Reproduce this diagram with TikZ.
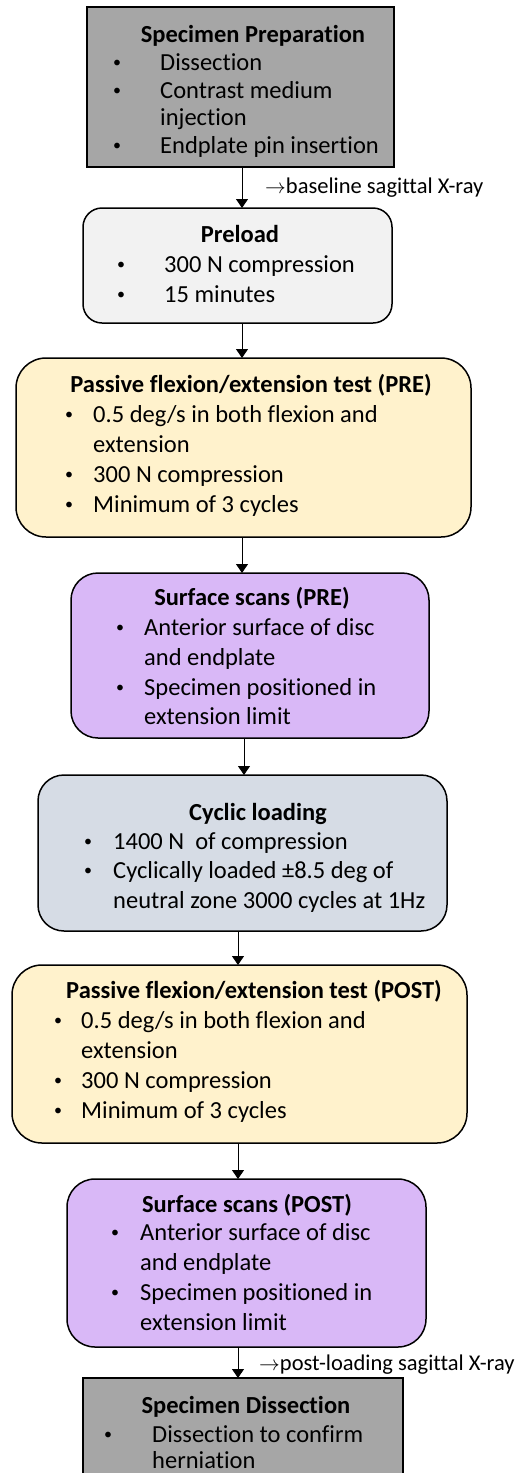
\documentclass[tikz,border=0pt]{standalone}
\usepackage{fontspec}
\setmainfont{Carlito}[Ligatures={NoCommon,NoRequired,NoContextual},RawFeature={-liga;-clig}]
\usetikzlibrary{arrows.meta}

\definecolor{stepgray}{HTML}{A6A6A6}
\definecolor{lightgray}{HTML}{F2F2F2}
\definecolor{paleyellow}{HTML}{FFF2CC}
\definecolor{lilac}{HTML}{D9B8F7}
\definecolor{slate}{HTML}{D6DCE5}

\newcounter{ln}
% bullet at x=#1, text at x=#2, baseline y=#3
\newcommand\bitem[4]{\stepcounter{ln}%
  \node[bul] (bu\theln) at (#1,#3) {\raisebox{2.5pt}{\textbullet}};%
  \node[txt] (tx\theln) at (#2,#3) {#4};}
% continuation line of a bullet
\newcommand\contline[3]{\stepcounter{ln}%
  \node[txt] (tx\theln) at (#1,#2) {#3};}

\begin{document}
\begin{tikzpicture}[x=1pt,y=-1pt,
  box/.style={draw=black, line width=1.5pt, inner sep=0pt, outer sep=0pt, anchor=north west},
  txt/.style={anchor=base west, inner sep=0pt, font=\fontsize{24.5}{29}\selectfont},
  bul/.style={anchor=base, inner sep=0pt, font=\fontsize{16}{20}\selectfont},
  ttl/.style={anchor=base, inner sep=0pt, font=\fontsize{24.5}{29}\selectfont\bfseries},
  lbl/.style={anchor=base west, inner sep=0pt, font=\fontsize{22.5}{27}\selectfont},
  arr/.style={line width=1pt, -{Triangle[length=9pt,width=12pt]}}]
\clip (0,0) rectangle (522,1473);
\fill[white] (0,0) rectangle (522,1473);

% boxes
\node[box, fill=stepgray, minimum width=307pt, minimum height=160pt] (prep) at (87,7) {};
\node[box, fill=lightgray, rounded corners=19pt, minimum width=309pt, minimum height=115pt] (preload) at (83,208) {};
\node[box, fill=paleyellow, rounded corners=30pt, minimum width=455pt, minimum height=179pt] (pfpre) at (16,358) {};
\node[box, fill=lilac, rounded corners=27pt, minimum width=358pt, minimum height=165pt] (sspre) at (71,573) {};
\node[box, fill=slate, rounded corners=26pt, minimum width=409pt, minimum height=156pt] (cyc) at (38,775) {};
\node[box, fill=paleyellow, rounded corners=30pt, minimum width=455pt, minimum height=178pt] (pfpost) at (12,965) {};
\node[box, fill=lilac, rounded corners=28pt, minimum width=359pt, minimum height=168pt] (sspost) at (67,1179) {};
\node[box, fill=stepgray, minimum width=320pt, minimum height=140pt] (diss) at (83,1378) {};

% arrow columns
\coordinate (ca) at (242,0);
\coordinate (cb) at (244,0);
\coordinate (cc) at (238,0);
\draw[arr] (prep.south -| ca) -- (preload.north -| ca);
\draw[arr] (preload.south -| ca) -- (pfpre.north -| ca);
\draw[arr] (pfpre.south -| ca) -- (sspre.north -| ca);
\draw[arr] (sspre.south -| cb) -- (cyc.north -| cb);
\draw[arr] (cyc.south -| cc) -- (pfpost.north -| cc);
\draw[arr] (pfpost.south -| cc) -- (sspost.north -| cc);
\draw[arr] (sspost.south -| cc) -- (diss.north -| cc);

% side notes
\node[lbl] (xray1) at (265,193) {$\rightarrow$baseline sagittal X-ray};
\node[lbl] (xray2) at (259,1370) {$\rightarrow$post-loading sagittal X-ray};

% Specimen Preparation
\node[ttl] (t1) at (253,42) {Specimen Preparation};
\bitem{117}{160}{70}{Dissection}
\bitem{117}{160}{98}{Contrast medium}
\contline{160}{125}{injection}
\bitem{117}{160}{153}{Endplate pin insertion}

% Preload
\node[ttl] (t2) at (240,242) {Preload};
\bitem{121}{164}{272}{300 N compression}
\bitem{121}{164}{302}{15 minutes}

% Passive test (PRE)
\node[ttl] (t3) at (251,392) {Passive flexion/extension test (PRE)};
\bitem{69}{93}{422}{0.5 deg/s in both flexion and}
\contline{93}{452}{extension}
\bitem{69}{93}{482}{300 N compression}
\bitem{69}{93}{512}{Minimum of 3 cycles}

% Surface scans (PRE)
\node[ttl] (t4) at (252,605) {Surface scans (PRE)};
\bitem{120}{144}{635}{Anterior surface of disc}
\contline{144}{665}{and endplate}
\bitem{120}{144}{695}{Specimen positioned in}
\contline{144}{724}{extension limit}

% Cyclic loading
\node[ttl] (t5) at (258,820) {Cyclic loading};
\bitem{88}{113}{849}{1400 N\ \ of compression}
\bitem{88}{113}{878}{Cyclically loaded ±8.5 deg of}
\contline{113}{908}{neutral zone 3000 cycles at 1Hz}

% Passive test (POST)
\node[ttl] (t6) at (254,998) {Passive flexion/extension test (POST)};
\bitem{58}{81}{1028}{0.5 deg/s in both flexion and}
\contline{81}{1058}{extension}
\bitem{58}{81}{1088}{300 N compression}
\bitem{58}{81}{1118}{Minimum of 3 cycles}

% Surface scans (POST)
\node[ttl] (t7) at (247,1212) {Surface scans (POST)};
\bitem{115}{140}{1240}{Anterior surface of disc}
\contline{140}{1270}{and endplate}
\bitem{115}{140}{1300}{Specimen positioned in}
\contline{140}{1330}{extension limit}

% Specimen Dissection
\node[ttl] (t8) at (246,1413) {Specimen Dissection};
\bitem{108}{152}{1442}{Dissection to confirm}
\contline{152}{1468}{herniation}
\end{tikzpicture}
\end{document}
